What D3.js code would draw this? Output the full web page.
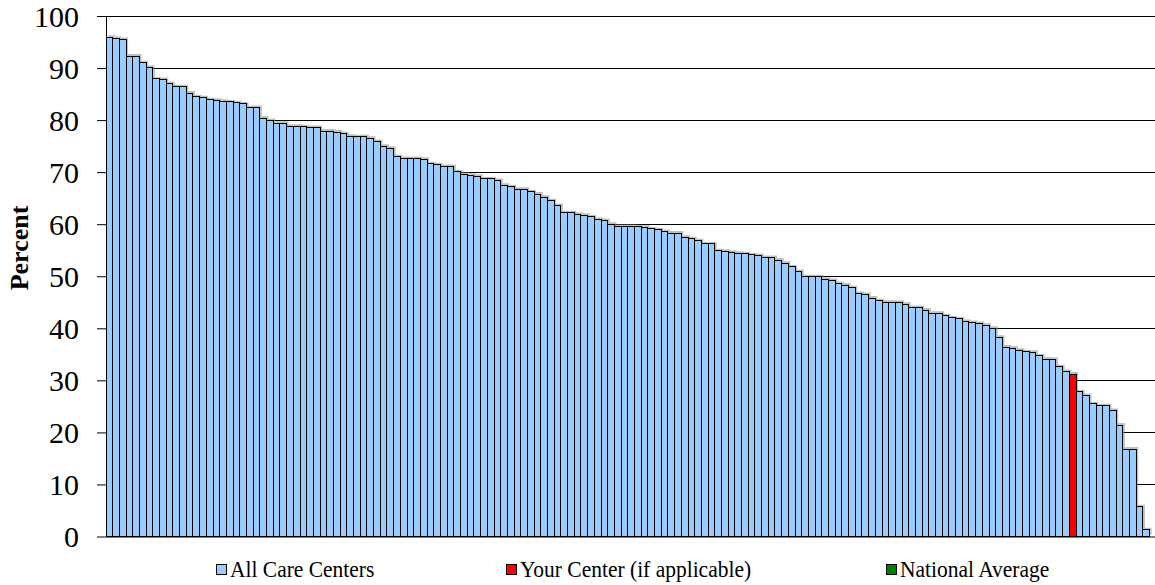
<!DOCTYPE html>
<html><head><meta charset="utf-8">
<script src="https://cdn.jsdelivr.net/npm/d3@7"></script>
<style>body{margin:0;background:#fff}svg{display:block}</style>
</head><body><svg id="c" width="1155" height="585"></svg>
<script>
const values = [95.9,95.7,95.5,92.3,92.3,91.0,90.1,87.9,87.8,87.0,86.4,86.4,85.2,84.5,84.3,83.9,83.8,83.6,83.5,83.3,
83.1,82.4,82.4,80.4,79.9,79.4,79.4,78.8,78.8,78.7,78.6,78.6,77.9,77.9,77.7,77.4,76.9,76.8,76.8,76.5,
75.9,75.0,74.6,73.0,72.6,72.6,72.6,72.5,71.6,71.4,71.1,71.1,70.1,69.6,69.4,69.2,68.7,68.7,68.4,67.5,
67.2,66.7,66.7,66.2,65.8,65.2,64.5,63.6,62.2,62.2,61.9,61.7,61.4,60.9,60.7,60.0,59.6,59.6,59.6,59.5,
59.4,59.1,58.9,58.6,58.3,58.3,57.5,57.2,56.8,56.2,56.2,54.9,54.8,54.6,54.4,54.3,54.1,54.0,53.6,53.6,
53.1,52.5,51.8,50.9,49.9,49.9,49.9,49.4,49.2,48.6,48.3,47.8,46.7,46.5,45.8,45.3,45.0,45.0,45.0,44.6,
44.0,44.0,43.5,42.9,42.9,42.4,42.0,41.8,41.3,41.1,40.9,40.6,40.0,38.3,36.4,36.2,35.8,35.5,35.4,34.7,
34.1,34.0,32.6,31.7,31.2,27.8,27.1,25.5,25.1,25.1,24.2,21.4,16.8,16.8,5.7,1.3];
const yourCenterIndex = 144;
const yTicks = [0,10,20,30,40,50,60,70,80,90,100];
const legendItems = ["All Care Centers","Your Center (if applicable)","National Average"];
const legendColors = ["#99CCFF","#FF0000","#008000"];
const yTitle = "Percent";

const FONT = "'Liberation Serif','Times New Roman',serif";
const svg = d3.select("#c");
const L = 106, R = 1149.6, T = 16, B = 536.5, GR = 1155;
const x = d3.scaleBand().domain(d3.range(values.length)).range([L, R]).padding(0);
const y = d3.scaleLinear().domain([0,100]).range([B, T]);

// gridlines
svg.append("g").selectAll("line").data(yTicks.filter(t=>t>0)).join("line")
  .attr("x1", L).attr("x2", GR).attr("y1", d=>Math.round(y(d))+0.5).attr("y2", d=>Math.round(y(d))+0.5)
  .attr("stroke","#000").attr("stroke-width",1);

// shadows
const bw = x.bandwidth();
svg.append("g").selectAll("path").data(values).join("path")
  .attr("d",(d,i)=>{const x0=x(i), y0=y(d), h=B-y0, o=2;
    return `M${x0+o},${y0-o}H${x0+bw+o}V${y0+h-o}H${x0+bw}V${y0}H${x0+o}Z`;})
  .attr("fill","#7f7f7f").attr("opacity",0.5);

// bars
svg.append("g").attr("shape-rendering","crispEdges").selectAll("rect").data(values).join("rect")
  .attr("x",(d,i)=>x(i)).attr("y",d=>y(d)).attr("width",bw).attr("height",d=>B-y(d))
  .attr("fill",(d,i)=>i===yourCenterIndex?legendColors[1]:legendColors[0])
  .attr("stroke","#000").attr("stroke-width",1);

// y axis
const ax = svg.append("g").attr("transform",`translate(${L},0)`)
  .call(d3.axisLeft(y).tickValues(yTicks).tickSize(9).tickPadding(18).tickFormat(d3.format("d")));
ax.attr("font-family",FONT).attr("font-size",30);
ax.select(".domain").attr("stroke","#000").attr("d",`M0.5,${T}V${B}`);
ax.selectAll(".tick line").attr("stroke","#000");
ax.selectAll(".tick text").attr("fill","#000").attr("dy","0.34em");
// bottom axis line
svg.append("line").attr("x1",L).attr("x2",GR).attr("y1",B+0.5).attr("y2",B+0.5).attr("stroke","#000");

// y title
svg.append("text").attr("transform",`translate(28,248) rotate(-90)`)
  .attr("text-anchor","middle").attr("font-family",FONT).attr("font-weight","bold").attr("font-size",26).text(yTitle);

// legend
const lx = [216, 506, 886];
const lg = svg.append("g");
legendItems.forEach((t,i)=>{
  lg.append("rect").attr("x",lx[i]+0.5).attr("y",564.5).attr("width",10).attr("height",10)
    .attr("fill",legendColors[i]).attr("stroke","#000").attr("stroke-width",1);
  lg.append("text").attr("x",lx[i]+14).attr("y",577).attr("font-family",FONT).attr("font-size",21.5)
    .attr("transform",`translate(0,577) scale(1,1.08) translate(0,-577)`).text(t);
});
</script></body></html>
